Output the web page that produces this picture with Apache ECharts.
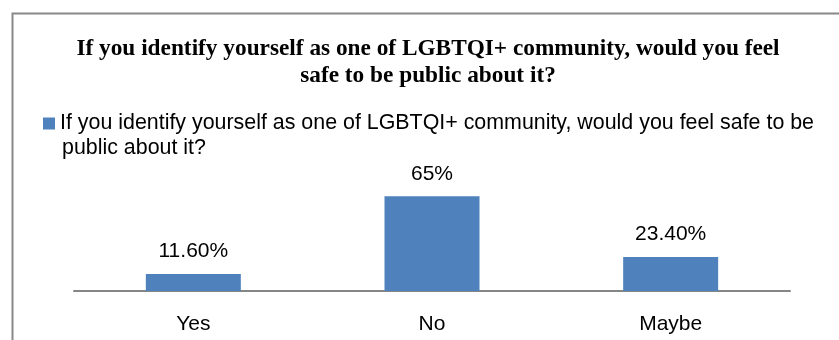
<!DOCTYPE html>
<html>
<head>
<meta charset="utf-8">
<script src="https://cdn.jsdelivr.net/npm/echarts@6/dist/echarts.min.js"></script>
<style>html,body{margin:0;padding:0;background:#fff}#c{width:839px;height:340px}</style>
</head>
<body>
<div id="c"></div>
<script>
const categories = ['Yes', 'No', 'Maybe'];
const values = [11.6, 65, 23.4];
const valueLabels = ['11.60%', '65%', '23.40%'];
const seriesName = 'If you identify yourself as one of LGBTQI+ community, would you feel safe to be public about it?';
const titleLines = ['If you identify yourself as one of LGBTQI+ community, would you feel', 'safe to be public about it?'];
const legendLines = ['If you identify yourself as one of LGBTQI+ community, would you feel safe to be', 'public about it?'];

const chart = echarts.init(document.getElementById('c'));
chart.setOption({
  animation: false,
  title: {
    text: titleLines.join('\n'),
    left: 423, top: 30, textAlign: 'center',
    textStyle: { fontFamily: 'Liberation Serif', fontWeight: 'bold', fontSize: 23.3, lineHeight: 27, color: '#000' }
  },
  legend: {
    left: 38, top: 108, itemWidth: 12, itemHeight: 12, itemGap: 0,
    icon: 'rect',
    data: [seriesName],
    formatter: () => legendLines[0],
    textStyle: { fontFamily: 'Liberation Sans', fontSize: 21.4, color: '#000' }
  },
  graphic: [
    { type: 'rect', left: 10, top: 11, shape: { width: 900, height: 400 }, style: { fill: 'none', stroke: '#888888', lineWidth: 2 }, silent: true },
    { type: 'text', left: 62, top: 138, style: { text: legendLines[1], fontFamily: 'Liberation Sans', fontSize: 21.4, fill: '#000' } }
  ],
  grid: { left: 74, right: 49, top: 189, bottom: 49 },
  xAxis: {
    type: 'category', data: categories,
    axisLine: { lineStyle: { color: '#868686', width: 2 } },
    axisTick: { show: false },
    axisLabel: { fontFamily: 'Liberation Sans', fontSize: 21, color: '#000', margin: 23 }
  },
  yAxis: { type: 'value', min: 0, max: 70, show: false, splitLine: { show: false } },
  series: [{
    name: seriesName, type: 'bar', data: values, barWidth: 95,
    itemStyle: { color: '#4F81BD' },
    label: { show: true, position: 'top', distance: 12, fontFamily: 'Liberation Sans', fontSize: 21, color: '#000',
      formatter: p => valueLabels[p.dataIndex] }
  }]
});
</script>
</body>
</html>
